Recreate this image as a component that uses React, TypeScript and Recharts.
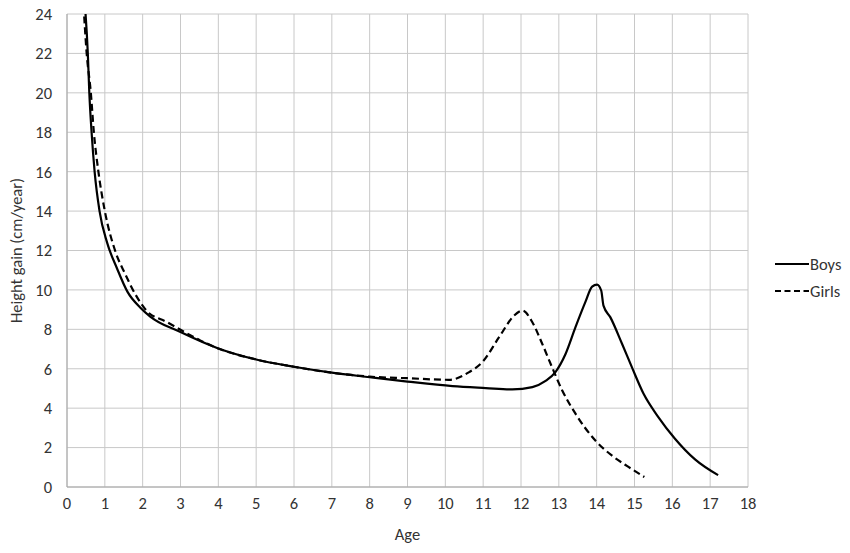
import React from 'react'
import { LineChart, Line, XAxis, YAxis, CartesianGrid, Label } from 'recharts'

// Age (years) and height gain (cm/year)
const boysAge = [0.45, 0.55, 0.59, 0.65, 0.73, 0.86, 1.06, 1.32, 1.6, 1.94, 2.2, 3, 4, 5, 6, 7, 8, 9, 10.19, 11.07, 11.77, 12.3, 12.65, 12.91, 13.18, 13.44, 13.7, 13.88, 14.01, 14.12, 14.18, 14.36, 14.67, 14.93, 15.24, 15.63, 16.07, 16.6, 17.21]
const boysGain = [25, 22, 20, 18, 16, 14, 12.4, 11.1, 9.9, 9.1, 8.65, 7.86, 7.03, 6.47, 6.1, 5.8, 5.57, 5.35, 5.12, 5.02, 4.95, 5.07, 5.38, 5.83, 6.76, 8.11, 9.38, 10.17, 10.27, 9.97, 9.2, 8.62, 7.27, 6.08, 4.73, 3.55, 2.45, 1.4, 0.6]

const girlsAge = [0.42, 0.52, 0.63, 0.71, 0.83, 1.0, 1.27, 1.54, 1.8, 2.1, 2.64, 3, 3.52, 4, 5, 6, 7, 8, 9, 10.1, 10.63, 10.98, 11.42, 11.82, 12.04, 12.3, 12.56, 12.82, 13.09, 13.44, 13.96, 14.4, 14.84, 15.26]
const girlsGain = [25, 22, 20, 18, 16, 14, 12, 10.8, 9.8, 8.95, 8.37, 7.98, 7.44, 7.03, 6.47, 6.1, 5.8, 5.6, 5.52, 5.44, 5.83, 6.34, 7.6, 8.7, 8.95, 8.36, 7.27, 6.08, 4.9, 3.72, 2.37, 1.6, 1.02, 0.51]

const xTicks = [0, 1, 2, 3, 4, 5, 6, 7, 8, 9, 10, 11, 12, 13, 14, 15, 16, 17, 18]
const yTicks = [0, 2, 4, 6, 8, 10, 12, 14, 16, 18, 20, 22, 24]

const boysData = boysAge.map((age, i) => ({ age, gain: boysGain[i] }))
const girlsData = girlsAge.map((age, i) => ({ age, gain: girlsGain[i] }))

const font = "Carlito, 'Liberation Sans Narrow', 'Open Sans', sans-serif"
const textColor = '#333'
const fontSize = 16.5

// Excel-style legend on the right, outside the plot
function ChartLegend() {
  const items = [
    { name: 'Boys', dash: undefined },
    { name: 'Girls', dash: '6 3.5' }
  ]
  return (
    <div style={{ position: 'absolute', left: 775, top: 250, fontFamily: font, fontSize, color: textColor }}>
      {items.map(item => (
        <div key={item.name} style={{ display: 'flex', alignItems: 'center', height: 27 }}>
          <svg width={34} height={10}>
            <line x1={0} y1={5} x2={34} y2={5} stroke="#000" strokeWidth={2} strokeDasharray={item.dash} />
          </svg>
          <span style={{ marginLeft: 1 }}>{item.name}</span>
        </div>
      ))}
    </div>
  )
}

export default function App() {
  return (
    <div style={{ position: 'absolute', left: 0, top: 0, width: 850, height: 553, background: '#fff' }}>
      <LineChart
        width={850}
        height={553}
        margin={{ top: 14, right: 102, left: 0, bottom: 0 }}
      >
        <CartesianGrid stroke="#c8c8c8" strokeWidth={1} />
        <XAxis
          type="number"
          dataKey="age"
          domain={[0, 18]}
          ticks={xTicks}
          interval={0}
          height={66}
          tickLine={false}
          tickSize={0}
          tickMargin={10}
          axisLine={{ stroke: '#a6a6a6' }}
          tick={{ fontSize, fill: textColor, fontFamily: font }}
        >
          <Label value="Age" position="insideBottom" offset={13} style={{ fontSize, fill: textColor, fontFamily: font }} />
        </XAxis>
        <YAxis
          type="number"
          dataKey="gain"
          domain={[0, 24]}
          ticks={yTicks}
          interval={0}
          allowDataOverflow
          width={67}
          tickLine={false}
          tickSize={0}
          tickMargin={15}
          axisLine={{ stroke: '#a6a6a6' }}
          tick={{ fontSize, fill: textColor, fontFamily: font }}
        >
          <Label
            value="Height gain (cm/year)"
            angle={-90}
            position="center"
            dx={-17}
            style={{ fontSize, fill: textColor, fontFamily: font, textAnchor: 'middle' }}
          />
        </YAxis>
        <Line
          data={boysData}
          dataKey="gain"
          name="Boys"
          type="monotone"
          stroke="#000"
          strokeWidth={2.2}
          dot={false}
          isAnimationActive={false}
        />
        <Line
          data={girlsData}
          dataKey="gain"
          name="Girls"
          type="monotone"
          stroke="#000"
          strokeWidth={2.2}
          strokeDasharray="7 4"
          dot={false}
          isAnimationActive={false}
        />
      </LineChart>
      <ChartLegend />
    </div>
  )
}
